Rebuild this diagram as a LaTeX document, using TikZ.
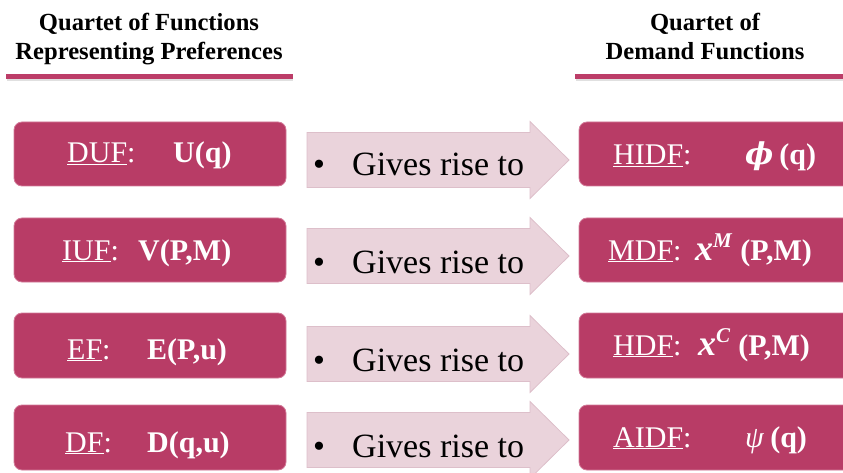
\documentclass[tikz,border=0pt]{standalone}
\usepackage{fontspec}
\setmainfont{Liberation Serif}
\newfontfamily\greekserif{DejaVu Serif}
\definecolor{boxred}{HTML}{B83C66}
\definecolor{boxrim}{HTML}{D27A98}
\definecolor{rulered}{HTML}{BC3D68}
\definecolor{arrowpink}{HTML}{EAD3DB}
\definecolor{arrowrim}{HTML}{DDBFCA}
\tikzset{
  fnbox/.style={draw=boxrim, line width=0.8pt, fill=boxred, rounded corners=8pt},
  giveshape/.style={draw=arrowrim, line width=0.8pt, fill=arrowpink},
  txt/.style={inner sep=0pt, anchor=base west},
  lbl/.style={txt, text=white, font=\fontsize{30}{36}\selectfont},
  expr/.style={txt, text=white, font=\fontsize{30}{36}\selectfont\bfseries},
  gives/.style={txt, text=black, font=\fontsize{34}{40}\selectfont},
  head/.style={inner sep=0pt, anchor=base, font=\fontsize{24.6}{29}\selectfont\bfseries},
  headrule/.style={line width=5pt, rulered},
}
% bold italic variable with a raised index
\newcommand{\varsup}[2]{{\fontsize{36}{36}\selectfont\textit{#1}}\raisebox{13pt}{\fontsize{21}{21}\selectfont\textit{#2}}}
\newcommand{\givesarrow}[2]{%
  % block arrow centred on height #1, named #2
  \draw[giveshape] (307,#1-27.5) -- (530,#1-27.5) -- (530,#1-38.5) -- (569,#1)
    -- (530,#1+38.5) -- (530,#1+27.5) -- (307,#1+27.5) -- cycle;
  \coordinate (#2) at (438,#1);
}
\begin{document}
\begin{tikzpicture}[x=1pt,y=-1pt]
\useasboundingbox (0,0) rectangle (843,473);
\clip (0,0) rectangle (843,473);

% headings
\node[head] (hl1) at (149,31) {Quartet of Functions};
\node[head] (hl2) at (149,60) {Representing Preferences};
\node[head] (hr1) at (705,31) {Quartet of};
\node[head] (hr2) at (705,60) {Demand Functions};
\draw[line width=2pt, black!12] (7,80) -- (293,80);
\draw[line width=2pt, black!12] (576,80) -- (843,80);
\draw[headrule] (6,76.5) -- (293,76.5);
\draw[headrule] (575,76.5) -- (843,76.5);

% left column: preference functions
\draw[fnbox] (14,122) rectangle (286,186);
\draw[fnbox] (14,218) rectangle (286,282);
\draw[fnbox] (14,313) rectangle (286,378);
\draw[fnbox] (14,405) rectangle (286,470);

% right column: demand functions
\draw[fnbox] (579,122) rectangle (855,186);
\draw[fnbox] (579,218) rectangle (855,282);
\draw[fnbox] (579,313) rectangle (855,378);
\draw[fnbox] (579,405) rectangle (855,470);

% "gives rise to" block arrows
\givesarrow{160}{a1}
\givesarrow{256}{a2}
\givesarrow{354}{a3}
\givesarrow{440}{a4}

\foreach \b/\n in {176/1, 273/2, 371/3, 457/4}{
  \node[gives] (bul\n) at (313,\b) {•};
  \node[gives] (gr\n) at (352,\b) {Gives rise to};
}

% left labels
\node[lbl]  (l1) at (67,163) {\underline{DUF}:};
\node[expr] (e1) at (173,163) {U(q)};
\node[lbl]  (l2) at (62,260) {\underline{IUF}:};
\node[expr] (e2) at (138,260) {V(P,M)};
\node[lbl]  (l3) at (67,359) {\underline{EF}:};
\node[expr] (e3) at (147,359) {E(P,u)};
\node[lbl]  (l4) at (65,452) {\underline{DF}:};
\node[expr] (e4) at (147,452) {D(q,u)};

% right labels
\node[lbl]  (r1) at (613,165) {\underline{HIDF}:};
\node[expr] (f1) at (745,165) {{\greekserif\itshape ϕ}\hspace{6pt}(q)};
\node[lbl]  (r2) at (608,260) {\underline{MDF}:};
\node[expr] (f2) at (695,260) {\varsup{x}{M}\hspace{8pt}(P,M)};
\node[lbl]  (r3) at (613,355) {\underline{HDF}:};
\node[expr] (f3) at (698,355) {\varsup{x}{C}\hspace{8pt}(P,M)};
\node[lbl]  (r4) at (613,447) {\underline{AIDF}:};
\node[lbl]  (f4) at (745,447) {\textit{ψ}\hspace{6pt}\textbf{(q)}};
\end{tikzpicture}
\end{document}
